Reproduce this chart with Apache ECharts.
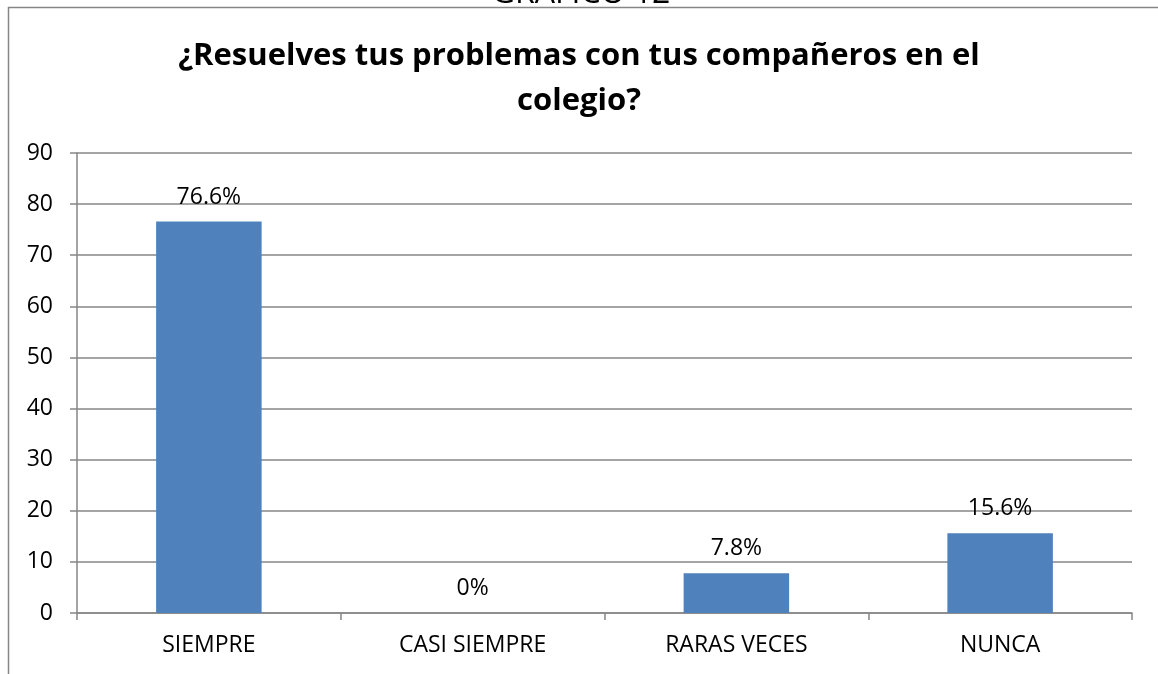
<!DOCTYPE html>
<html lang="es">
<head>
    <meta charset="UTF-8">
    <title>Resuelves tus problemas</title>
    <script src="https://cdn.jsdelivr.net/npm/echarts@6/dist/echarts.min.js"></script>
    <style>
        body { margin: 0; background: #fff; }
        #chart { width: 1158px; height: 674px; }
    </style>
</head>
<body>
    <div id="chart"></div>
    <script>
        // Data
        const categories = ['SIEMPRE', 'CASI SIEMPRE', 'RARAS VECES', 'NUNCA'];
        const values = [76.6, 0, 7.8, 15.6];
        const valueLabels = ['76.6%', '0%', '7.8%', '15.6%'];

        const font = '"Open Sans", sans-serif';
        const gray = '#868686';

        const chart = echarts.init(document.getElementById('chart'));
        chart.setOption({
            animation: false,
            title: {
                text: '¿Resuelves tus problemas con tus compañeros en el\ncolegio?',
                left: 'center',
                top: 29,
                textStyle: {
                    fontFamily: font,
                    fontSize: 31,
                    fontWeight: 'bold',
                    color: '#000',
                    lineHeight: 45,
                    align: 'center'
                }
            },
            graphic: [
                {
                    type: 'rect',
                    shape: { x: 8.5, y: 7.5, width: 1200, height: 800 },
                    style: { fill: 'none', stroke: gray, lineWidth: 1.5 }
                },
                {
                    type: 'text',
                    x: 581, y: -6,
                    style: {
                        text: 'GRÁFICO 12',
                        font: '32px "Open Sans", sans-serif',
                        fill: '#000',
                        textAlign: 'center',
                        textVerticalAlign: 'middle'
                    }
                }
            ],
            grid: { left: 77, right: 26, top: 153, bottom: 61 },
            xAxis: {
                type: 'category',
                data: categories,
                axisLine: { lineStyle: { color: gray, width: 1.5 } },
                axisTick: { show: true, length: 7, lineStyle: { color: gray, width: 1.5 } },
                axisLabel: { fontFamily: font, fontSize: 23, color: '#000', margin: 21 }
            },
            yAxis: {
                type: 'value',
                min: 0,
                max: 90,
                interval: 10,
                axisLine: { show: true, lineStyle: { color: gray, width: 1.5 } },
                axisTick: { show: true, length: 7, lineStyle: { color: gray, width: 1.5 } },
                axisLabel: { fontFamily: font, fontSize: 23, color: '#000', margin: 24 },
                splitLine: { lineStyle: { color: gray, width: 1.5 } }
            },
            series: [{
                type: 'bar',
                data: values,
                barWidth: '40%',
                itemStyle: { color: '#4F81BD' },
                label: {
                    show: true,
                    position: 'top',
                    distance: 13,
                    fontFamily: font,
                    fontSize: 23,
                    color: '#000',
                    formatter: p => valueLabels[p.dataIndex]
                }
            }]
        });
    </script>
</body>
</html>
